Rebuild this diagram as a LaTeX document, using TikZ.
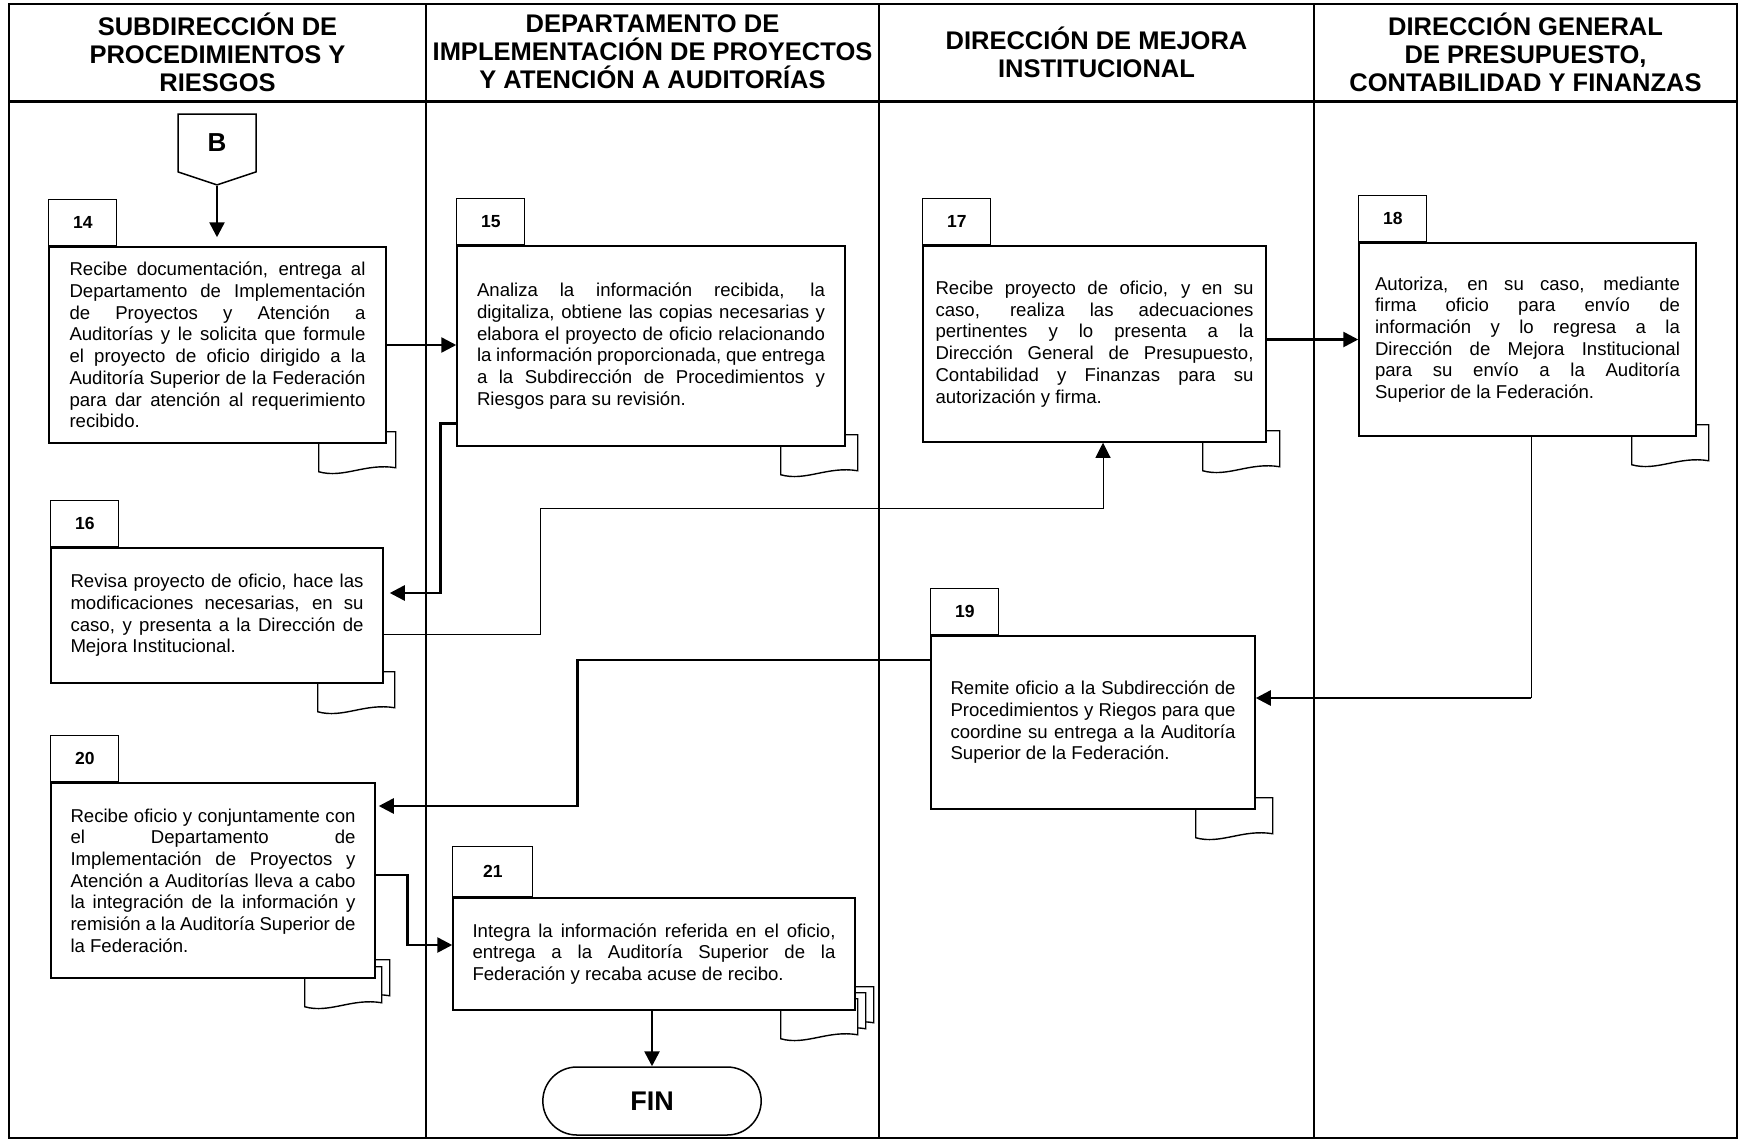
\documentclass[tikz,border=0pt]{standalone}
\usepackage{fontspec}
\setmainfont{Liberation Sans}
\usetikzlibrary{positioning, calc, arrows.meta, shapes.misc, shapes.symbols, backgrounds}

\hyphenpenalty=10000
\exhyphenpenalty=10000
\tolerance=10000
\hbadness=10000

\newcommand{\boxfont}{\fontsize{18.6pt}{21.7pt}\selectfont}
\newcommand{\headfont}{\fontsize{25.5pt}{28pt}\selectfont\bfseries}

% sheet under the lower right corner of a box: node, x offset, y offset
\newcommand{\docsheet}[3]{%
  \begin{pgfonlayer}{background}
    \draw[sheet, shift={($(#1.south east)+(#2,#3)$)}]
      (0,-12) -- (0,24) .. controls (-30,19) and (-52,35) .. (-77,28)
      -- (-77,-12) -- cycle;
  \end{pgfonlayer}}

\begin{document}
\begin{tikzpicture}[
  x=1pt, y=-1pt,
  >={Triangle[length=15pt, width=15pt]},
  lane/.style     = {line width=1.8pt},
  box/.style      = {draw, line width=1.5pt, fill=white, inner sep=4pt, align=justify, font=\boxfont},
  numtab/.style   = {draw, line width=1.2pt, fill=white, minimum width=68pt, minimum height=46pt,
                     inner sep=0pt, font=\fontsize{17.5pt}{19pt}\selectfont\bfseries},
  sheet/.style    = {draw, line width=1.4pt, fill=white},
  flow/.style     = {->, line width=2.6pt},
  thinflow/.style = {->, line width=1pt},
  head/.style     = {align=center, font=\headfont},
]
  \useasboundingbox (0,0) rectangle (1740,1141);

  % ---- frame and lanes ----
  \draw[line width=2.5pt] (9,4) rectangle (1737,1138);
  \draw[line width=3pt] (9,101) -- (1737,101);
  \foreach \x in {426, 879, 1314}
    \draw[lane] (\x,4) -- (\x,1138);

  \node[head] (h1) at (217.5,52)  {SUBDIRECCIÓN DE\\PROCEDIMIENTOS Y\\RIESGOS};
  \node[head] (h2) at (652.5,52)  {DEPARTAMENTO DE\\IMPLEMENTACIÓN DE PROYECTOS\\Y ATENCIÓN A AUDITORÍAS};
  \node[head] (h3) at (1096.5,52) {DIRECCIÓN DE MEJORA\\INSTITUCIONAL};
  \node[head] (h4) at (1525.5,52) {DIRECCIÓN GENERAL\\DE PRESUPUESTO,\\CONTABILIDAD Y FINANZAS};

  % ---- start connector ----
  \node[draw, signal, signal to=south, signal pointer angle=143, line width=1.5pt,
        minimum width=78pt, minimum height=62pt,
        font=\fontsize{26pt}{28pt}\selectfont\bfseries] (B) at (217,143) {B};

  % ---- activities ----
  \node[box, minimum width=337pt, minimum height=196pt, text width=296pt] (b14) at (217.5,345)
    {Recibe documentación, entrega al\linebreak Departamento de Implementación\linebreak
     de Proyectos y Atención a\linebreak Auditorías y le solicita que formule\linebreak
     el proyecto de oficio dirigido a la\linebreak Auditoría Superior de la Federación\linebreak
     para dar atención al requerimiento\linebreak recibido.};
  \node[box, minimum width=388pt, minimum height=200pt, text width=348pt] (b15) at (651,346)
    {Analiza la información recibida, la\linebreak digitaliza, obtiene las copias necesarias y\linebreak
     elabora el proyecto de oficio relacionando\linebreak la información proporcionada, que entrega\linebreak
     a la Subdirección de Procedimientos y\linebreak Riesgos para su revisión.};
  \node[box, minimum width=332pt, minimum height=135pt, text width=293pt] (b16) at (217,615.5)
    {Revisa proyecto de oficio, hace las\linebreak modificaciones necesarias, en su\linebreak
     caso, y presenta a la Dirección de\linebreak Mejora Institucional.};
  \node[box, minimum width=343pt, minimum height=196pt, text width=318pt] (b17) at (1094.5,344)
    {Recibe proyecto de oficio, y en su\linebreak caso, realiza las adecuaciones\linebreak
     pertinentes y lo presenta a la\linebreak Dirección General de Presupuesto,\linebreak
     Contabilidad y Finanzas para su\linebreak autorización y firma.};
  \node[box, minimum width=337pt, minimum height=193pt, text width=305pt] (b18) at (1527.5,339.5)
    {Autoriza, en su caso, mediante\linebreak firma oficio para envío de\linebreak
     información y lo regresa a la\linebreak Dirección de Mejora Institucional\linebreak
     para su envío a la Auditoría\linebreak Superior de la Federación.};
  \node[box, minimum width=324pt, minimum height=173pt, text width=285pt] (b19) at (1093,722.5)
    {Remite oficio a la Subdirección de\linebreak Procedimientos y Riegos para que\linebreak
     coordine su entrega a la Auditoría\linebreak Superior de la Federación.};
  \node[box, minimum width=324pt, minimum height=195pt, text width=285pt] (b20) at (213,880.5)
    {Recibe oficio y conjuntamente con\linebreak el Departamento de\linebreak
     Implementación de Proyectos y\linebreak Atención a Auditorías lleva a cabo\linebreak
     la integración de la información y\linebreak remisión a la Auditoría Superior de\linebreak
     la Federación.};
  \node[box, minimum width=402pt, minimum height=112pt, text width=363pt] (b21) at (654,954)
    {Integra la información referida en el oficio,\linebreak entrega a la Auditoría Superior de la\linebreak
     Federación y recaba acuse de recibo.};

  \node[draw, rounded rectangle, line width=1.5pt, minimum width=225pt, minimum height=68pt,
        font=\fontsize{27pt}{29pt}\selectfont\bfseries] (fin) at (652,1101) {FIN};

  % ---- number tabs ----
  \node[numtab, anchor=south west] (t14) at (b14.north west) {14};
  \node[numtab, anchor=south west] (t15) at (b15.north west) {15};
  \node[numtab, anchor=south west] (t16) at (b16.north west) {16};
  \node[numtab, anchor=south west] (t17) at (b17.north west) {17};
  \node[numtab, anchor=south west] (t18) at (b18.north west) {18};
  \node[numtab, anchor=south west] (t19) at (b19.north west) {19};
  \node[numtab, anchor=south west] (t20) at (b20.north west) {20};
  \node[numtab, anchor=south west, minimum width=80pt, minimum height=50pt] (t21) at (b21.north west) {21};

  % ---- documents ----
  \docsheet{b14}{9}{0}
  \docsheet{b15}{12}{0}
  \docsheet{b16}{11}{0}
  \docsheet{b17}{13}{0}
  \docsheet{b18}{12}{0}
  \docsheet{b19}{17}{0}
  \docsheet{b20}{14}{-7}
  \docsheet{b20}{6}{0}
  \docsheet{b21}{18}{-12}
  \docsheet{b21}{10}{-6}
  \docsheet{b21}{2}{0}

  % ---- flow ----
  \draw[flow, shorten >=9pt] (B.south) -- (B.south |- b14.north);
  \draw[flow] (b14.east) -- (b14.east -| b15.west);
  \draw[flow, shorten >=6pt] ([yshift=23pt]b15.south west) -- ++(-16,0) |- ([yshift=22.5pt]b16.east);
  \draw[thinflow] ([yshift=-18.5pt]b16.east) -- ++(157,0) -- ++(0,-126) -| ([xshift=8.5pt]b17.south);
  \draw[flow] (b17.east |- b18.west) -- (b18.west);
  \coordinate (k19) at (1531,698);
  \draw[line width=1pt] ([xshift=3.5pt]b18.south) -- (k19);
  \draw[flow] (k19) -- (k19 -| b19.east);
  \draw[flow, shorten >=3pt] ([yshift=62.5pt]b19.west) -- ++(-353,0) |- ([yshift=74.5pt]b20.east);
  \draw[flow] ([yshift=5.5pt]b20.east) -- ++(32,0) |- ([yshift=9pt]b21.west);
  \draw[flow] (b21.south -| fin.north) -- (fin.north);
\end{tikzpicture}
\end{document}
